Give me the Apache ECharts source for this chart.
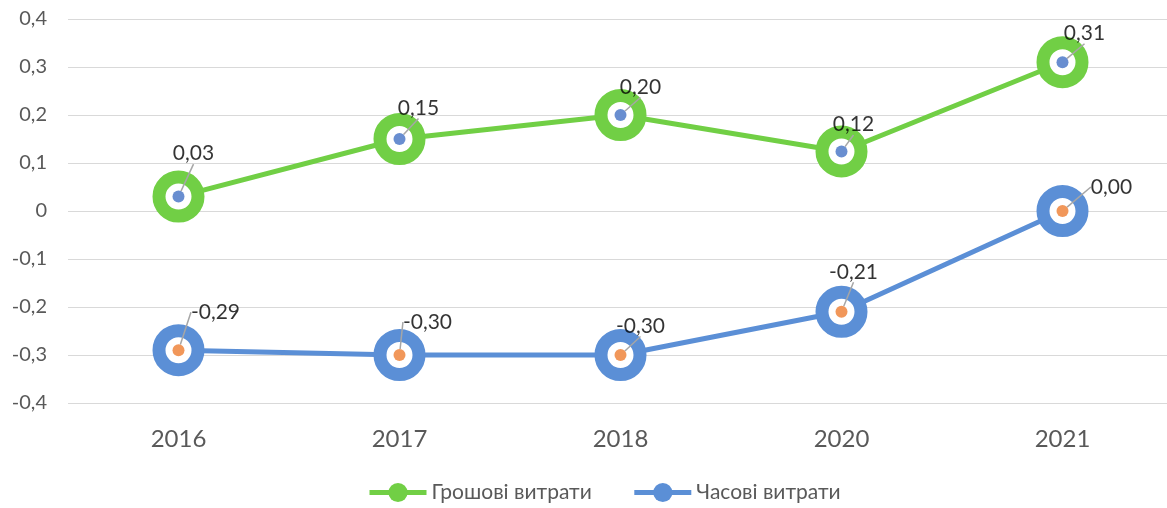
<!DOCTYPE html>
<html>
<head>
<meta charset="utf-8">
<script src="https://cdn.jsdelivr.net/npm/echarts@6/dist/echarts.min.js"></script>
<style>
    html, body { margin: 0; padding: 0; background: #fff; }
    #chart { width: 1167px; height: 508px; }
</style>
</head>
<body>
<div id="chart"></div>
<script>
// categories and values
const years = ["2016", "2017", "2018", "2020", "2021"];
const moneyCost = [0.03, 0.15, 0.20, 0.124, 0.31];
const timeCost = [-0.29, -0.30, -0.30, -0.21, 0.00];
const seriesNames = ["Грошові витрати", "Часові витрати"];

// label shifts (px) from each point, as in the picture
const moneyShift = [[15, -43], [19, -31], [20, -28], [12, -27], [22, -29]];
const timeShift = [[37, -38], [28, -33], [20, -29], [12, -40], [49, -24]];

const green = "#71CF45";
const blue = "#5B8FD6";
const font = "Lato, 'Noto Sans', sans-serif";

const chart = echarts.init(document.getElementById("chart"));

const ringLine = (name, data, color) => ({
    name,
    type: "line",
    data,
    color,
    z: 2,
    symbol: "circle",
    symbolSize: 39,
    lineStyle: { color, width: 5 },
    itemStyle: { color: "#fff", borderColor: color, borderWidth: 13 },
    emphasis: { disabled: true },
});

const centerDot = (name, data, color, shift) => ({
    name: name + " dot",
    type: "scatter",
    data,
    z: 5,
    symbolSize: 12,
    itemStyle: { color },
    label: {
        show: true,
        position: "inside",
        color: "#000",
        fontSize: 21,
        fontFamily: font,
        formatter: p => p.value.toFixed(2).replace(".", ","),
    },
    labelLine: { show: true, lineStyle: { color: "#a6a6a6", width: 1.5 } },
    labelLayout: p => ({ dx: shift[p.dataIndex][0], dy: shift[p.dataIndex][1] }),
    emphasis: { disabled: true },
});

chart.setOption({
    animation: false,
    grid: { left: 68, right: -6, top: 19, bottom: 105, outerBoundsMode: "none" },
    legend: {
        top: 477,
        left: 362,
        itemWidth: 57,
        itemHeight: 24,
        itemGap: 40,
        textStyle: { fontSize: 21, color: "#595959", fontFamily: font },
        data: [
            { name: seriesNames[0], itemStyle: { color: green, borderWidth: 0 }, lineStyle: { width: 5 } },
            { name: seriesNames[1], itemStyle: { color: blue, borderWidth: 0 }, lineStyle: { width: 5 } },
        ],
    },
    xAxis: {
        type: "category",
        data: years,
        axisLine: { show: false },
        axisTick: { show: false },
        axisLabel: { fontSize: 24, color: "#595959", fontFamily: font, margin: 24 },
    },
    yAxis: {
        type: "value",
        min: -0.4,
        max: 0.4,
        interval: 0.1,
        axisLine: { show: false },
        axisTick: { show: false },
        splitLine: { lineStyle: { color: "#d9d9d9", width: 1 } },
        axisLabel: {
            fontSize: 20,
            color: "#595959",
            fontFamily: font,
            margin: 21,
            formatter: v => (Math.round(v * 10) / 10).toString().replace(".", ","),
        },
    },
    series: [
        ringLine(seriesNames[0], moneyCost, green),
        ringLine(seriesNames[1], timeCost, blue),
        centerDot(seriesNames[0], moneyCost, "#4472C4", moneyShift),
        centerDot(seriesNames[1], timeCost, "#ED7D31", timeShift),
    ],
});
</script>
</body>
</html>
